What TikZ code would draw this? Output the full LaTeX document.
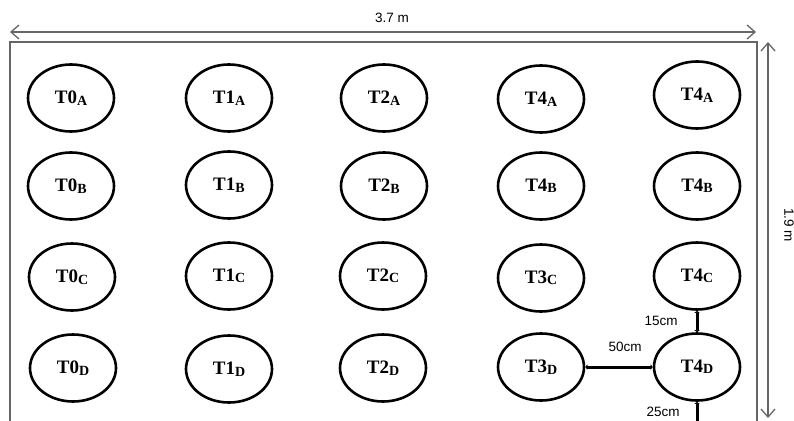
\documentclass[tikz,border=0pt]{standalone}
\usepackage{fontspec}
\setmainfont{Liberation Serif}
\newfontfamily\labfont{Liberation Sans}
\usetikzlibrary{arrows.meta,shapes.geometric}
\newcommand\tanklabel[2]{#1\raisebox{-1.5pt}{\fontsize{14}{14}\selectfont #2}}
\begin{document}
\begin{tikzpicture}[x=1pt,y=-1pt,
  tank/.style={ellipse,draw=black,line width=2.6pt,minimum width=86pt,minimum height=67pt,inner sep=0pt,
    font=\fontsize{19}{19}\selectfont\bfseries},
  dimline/.style={draw=black!60,line width=1.3pt,
    {Straight Barb[length=8pt,width=14pt]}-{Straight Barb[length=8pt,width=14pt]}},
  gapline/.style={draw=black,line width=3pt,{Latex[length=2pt,width=6pt]}-{Latex[length=2pt,width=6pt]}},
  lbl/.style={font=\labfont\fontsize{13.5}{13.5}\selectfont,inner sep=0pt}]
\useasboundingbox (0,0) rectangle (794,420);
\clip (0,0) rectangle (794,420);
% frame
\draw[black!60,line width=1.3pt] (10,42) rectangle (757,460);
% dimension arrows
\coordinate (tl) at (10,32);
\coordinate (tr) at (756,32);
\coordinate (vt) at (768,42);
\coordinate (vb) at (768,418);
\draw[dimline] (tl) -- (tr);
\draw[dimline] (vt) -- (vb);
\node[lbl] (w) at (392,18) {3.7 m};
\node[lbl,rotate=-90] (h) at (789,225) {1.9 m};
% row A
\node[tank] (t0a) at (71,98) {\tanklabel{T0}{A}};
\node[tank] (t1a) at (229,98) {\tanklabel{T1}{A}};
\node[tank] (t2a) at (384,98) {\tanklabel{T2}{A}};
\node[tank] (t3a) at (541,99) {\tanklabel{T4}{A}};
\node[tank] (t4a) at (697,95) {\tanklabel{T4}{A}};
% row B
\node[tank] (t0b) at (71,186) {\tanklabel{T0}{B}};
\node[tank] (t1b) at (229,185) {\tanklabel{T1}{B}};
\node[tank] (t2b) at (384,186) {\tanklabel{T2}{B}};
\node[tank] (t3b) at (541,186) {\tanklabel{T4}{B}};
\node[tank] (t4b) at (697,186) {\tanklabel{T4}{B}};
% row C
\node[tank] (t0c) at (72,277) {\tanklabel{T0}{C}};
\node[tank] (t1c) at (229,276) {\tanklabel{T1}{C}};
\node[tank] (t2c) at (383,276) {\tanklabel{T2}{C}};
\node[tank] (t3c) at (541,278) {\tanklabel{T3}{C}};
\node[tank] (t4c) at (697,276) {\tanklabel{T4}{C}};
% row D
\node[tank] (t0d) at (73,368) {\tanklabel{T0}{D}};
\node[tank] (t1d) at (229,369) {\tanklabel{T1}{D}};
\node[tank] (t2d) at (383,368) {\tanklabel{T2}{D}};
\node[tank] (t3d) at (541,367) {\tanklabel{T3}{D}};
\node[tank] (t4d) at (697,367) {\tanklabel{T4}{D}};
% spacing indicators
\coordinate (edge) at (697,440);
\draw[gapline] (t4c.south) -- (t4d.north);
\draw[gapline] (t3d.east) -- (t4d.west);
\draw[gapline] (t4d.south) -- (edge);
\node[lbl] (l15) at (661,321) {15cm};
\node[lbl] (l50) at (625,347) {50cm};
\node[lbl] (l25) at (663,412) {25cm};
\end{tikzpicture}
\end{document}
